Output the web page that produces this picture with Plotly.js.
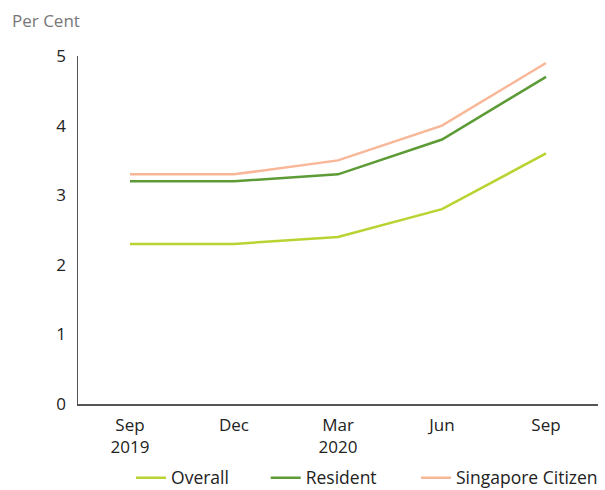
<!DOCTYPE html>
<html>
<head>
<meta charset="utf-8">
<script src="https://cdn.plot.ly/plotly-3.0.1.min.js"></script>
<style>html,body{margin:0;padding:0;background:#fff;}#chart{width:605px;height:490px;}</style>
</head>
<body>
<div id="chart"></div>
<script>
const categories = ["Sep<br>2019", "Dec", "Mar<br>2020", "Jun", "Sep"];
const overall = [2.3, 2.3, 2.4, 2.8, 3.6];
const resident = [3.2, 3.2, 3.3, 3.8, 4.7];
const citizen = [3.3, 3.3, 3.5, 4.0, 4.9];
const yTicks = [0, 1, 2, 3, 4, 5];

const xIdx = categories.map((c, i) => i);
const mk = (name, y, color, leg) => ({
  type: 'scatter', mode: 'lines', name: name, x: xIdx, y: y, legend: leg,
  line: {color: color, width: 2.5}, hoverinfo: 'skip'
});
const data = [
  mk('Overall', overall, '#b8d432', 'legend'),
  mk('Resident', resident, '#5c9b35', 'legend2'),
  mk('Singapore Citizen', citizen, '#f9b797', 'legend3')
];
const fam = '"Open Sans", "DejaVu Sans", sans-serif';
const font = {family: fam, size: 17, color: '#222'};
const legBase = (x) => ({orientation: 'h', x: x, xanchor: 'left', y: -0.212, yanchor: 'middle',
  font: {family: fam, size: 17.5, color: '#222'}, itemwidth: 30, bgcolor: 'rgba(0,0,0,0)', borderwidth: 0});
const layout = {
  width: 605, height: 490,
  margin: {l: 78, r: 7, t: 56, b: 86, autoexpand: false},
  paper_bgcolor: '#fff', plot_bgcolor: '#fff',
  font: font,
  showlegend: true,
  legend: legBase(0.102),
  legend2: legBase(0.361),
  legend3: legBase(0.650),
  xaxis: {
    range: [-0.5, 4.5], tickmode: 'array', tickvals: xIdx, ticktext: categories,
    showgrid: false, zeroline: false, showline: true, linecolor: '#555', linewidth: 1.5,
    ticks: '', tickfont: font, ticklabelstandoff: 5, fixedrange: true, automargin: false
  },
  yaxis: {
    range: [0, 5], tickmode: 'array', tickvals: yTicks, ticktext: yTicks.map(String),
    showgrid: false, zeroline: false, showline: true, linecolor: '#555', linewidth: 1.5,
    ticks: '', tickfont: font, ticklabelstandoff: 7, fixedrange: true, automargin: false
  },
  annotations: [{
    text: 'Per Cent', xref: 'paper', yref: 'paper', x: -0.1308, y: 1.103,
    xanchor: 'left', yanchor: 'middle', showarrow: false,
    font: {family: fam, size: 17, color: '#777'}
  }]
};
Plotly.newPlot('chart', data, layout, {displayModeBar: false, staticPlot: true});
</script>
</body>
</html>
